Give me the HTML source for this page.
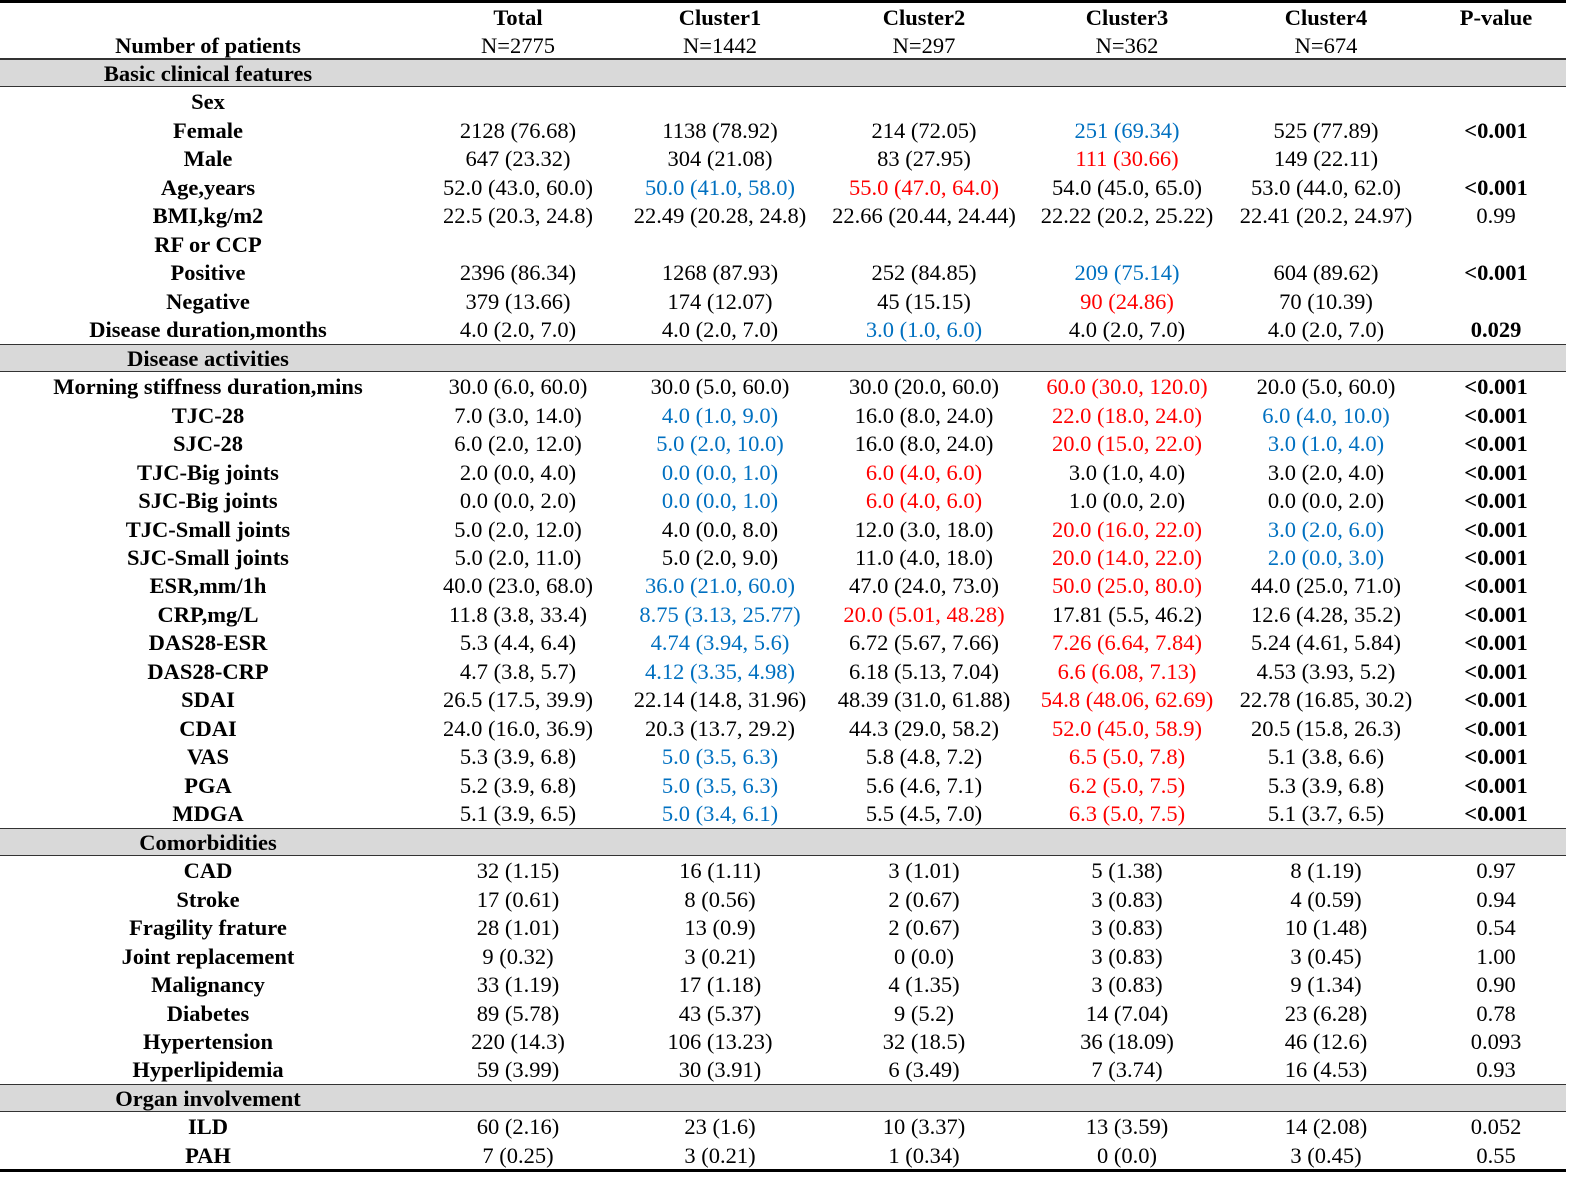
<!DOCTYPE html>
<html><head><meta charset="utf-8">
<style>
body{margin:0;width:1583px;height:1184px;background:#fff;position:relative;overflow:hidden;font-family:"Liberation Serif",serif;font-size:22.5px;color:#000}
.c{position:absolute;transform:translate(-50%,-50%);white-space:nowrap;line-height:1}
.b{font-weight:bold}
.band{position:absolute;left:0;width:1566px;height:28px;background:#d9d9d9;border-top:1.5px solid #333;border-bottom:1.5px solid #333;box-sizing:border-box}
.line{position:absolute;left:0;width:1566px;background:#000}
</style></head><body>
<div class="line" style="top:0;height:3px"></div>
<div class="line" style="top:1169px;height:3px"></div>
<div class="line" style="top:58px;height:1.5px;background:#333"></div>
<div id="t"></div>
<script>
const cols=[208,518,720,924,1127,1326,1496];
const rows=[
["S","Basic clinical features"],
["L","Sex"],
["L","Female","2128 (76.68)","1138 (78.92)","214 (72.05)","b:251 (69.34)","525 (77.89)","B:<0.001"],
["L","Male","647 (23.32)","304 (21.08)","83 (27.95)","r:111 (30.66)","149 (22.11)",""],
["L","Age,years","52.0 (43.0, 60.0)","b:50.0 (41.0, 58.0)","r:55.0 (47.0, 64.0)","54.0 (45.0, 65.0)","53.0 (44.0, 62.0)","B:<0.001"],
["L","BMI,kg/m2","22.5 (20.3, 24.8)","22.49 (20.28, 24.8)","22.66 (20.44, 24.44)","22.22 (20.2, 25.22)","22.41 (20.2, 24.97)","0.99"],
["L","RF or CCP"],
["L","Positive","2396 (86.34)","1268 (87.93)","252 (84.85)","b:209 (75.14)","604 (89.62)","B:<0.001"],
["L","Negative","379 (13.66)","174 (12.07)","45 (15.15)","r:90 (24.86)","70 (10.39)",""],
["L","Disease duration,months","4.0 (2.0, 7.0)","4.0 (2.0, 7.0)","b:3.0 (1.0, 6.0)","4.0 (2.0, 7.0)","4.0 (2.0, 7.0)","B:0.029"],
["S","Disease activities"],
["L","Morning stiffness duration,mins","30.0 (6.0, 60.0)","30.0 (5.0, 60.0)","30.0 (20.0, 60.0)","r:60.0 (30.0, 120.0)","20.0 (5.0, 60.0)","B:<0.001"],
["L","TJC-28","7.0 (3.0, 14.0)","b:4.0 (1.0, 9.0)","16.0 (8.0, 24.0)","r:22.0 (18.0, 24.0)","b:6.0 (4.0, 10.0)","B:<0.001"],
["L","SJC-28","6.0 (2.0, 12.0)","b:5.0 (2.0, 10.0)","16.0 (8.0, 24.0)","r:20.0 (15.0, 22.0)","b:3.0 (1.0, 4.0)","B:<0.001"],
["L","TJC-Big joints","2.0 (0.0, 4.0)","b:0.0 (0.0, 1.0)","r:6.0 (4.0, 6.0)","3.0 (1.0, 4.0)","3.0 (2.0, 4.0)","B:<0.001"],
["L","SJC-Big joints","0.0 (0.0, 2.0)","b:0.0 (0.0, 1.0)","r:6.0 (4.0, 6.0)","1.0 (0.0, 2.0)","0.0 (0.0, 2.0)","B:<0.001"],
["L","TJC-Small joints","5.0 (2.0, 12.0)","4.0 (0.0, 8.0)","12.0 (3.0, 18.0)","r:20.0 (16.0, 22.0)","b:3.0 (2.0, 6.0)","B:<0.001"],
["L","SJC-Small joints","5.0 (2.0, 11.0)","5.0 (2.0, 9.0)","11.0 (4.0, 18.0)","r:20.0 (14.0, 22.0)","b:2.0 (0.0, 3.0)","B:<0.001"],
["L","ESR,mm/1h","40.0 (23.0, 68.0)","b:36.0 (21.0, 60.0)","47.0 (24.0, 73.0)","r:50.0 (25.0, 80.0)","44.0 (25.0, 71.0)","B:<0.001"],
["L","CRP,mg/L","11.8 (3.8, 33.4)","b:8.75 (3.13, 25.77)","r:20.0 (5.01, 48.28)","17.81 (5.5, 46.2)","12.6 (4.28, 35.2)","B:<0.001"],
["L","DAS28-ESR","5.3 (4.4, 6.4)","b:4.74 (3.94, 5.6)","6.72 (5.67, 7.66)","r:7.26 (6.64, 7.84)","5.24 (4.61, 5.84)","B:<0.001"],
["L","DAS28-CRP","4.7 (3.8, 5.7)","b:4.12 (3.35, 4.98)","6.18 (5.13, 7.04)","r:6.6 (6.08, 7.13)","4.53 (3.93, 5.2)","B:<0.001"],
["L","SDAI","26.5 (17.5, 39.9)","22.14 (14.8, 31.96)","48.39 (31.0, 61.88)","r:54.8 (48.06, 62.69)","22.78 (16.85, 30.2)","B:<0.001"],
["L","CDAI","24.0 (16.0, 36.9)","20.3 (13.7, 29.2)","44.3 (29.0, 58.2)","r:52.0 (45.0, 58.9)","20.5 (15.8, 26.3)","B:<0.001"],
["L","VAS","5.3 (3.9, 6.8)","b:5.0 (3.5, 6.3)","5.8 (4.8, 7.2)","r:6.5 (5.0, 7.8)","5.1 (3.8, 6.6)","B:<0.001"],
["L","PGA","5.2 (3.9, 6.8)","b:5.0 (3.5, 6.3)","5.6 (4.6, 7.1)","r:6.2 (5.0, 7.5)","5.3 (3.9, 6.8)","B:<0.001"],
["L","MDGA","5.1 (3.9, 6.5)","b:5.0 (3.4, 6.1)","5.5 (4.5, 7.0)","r:6.3 (5.0, 7.5)","5.1 (3.7, 6.5)","B:<0.001"],
["S","Comorbidities"],
["L","CAD","32 (1.15)","16 (1.11)","3 (1.01)","5 (1.38)","8 (1.19)","0.97"],
["L","Stroke","17 (0.61)","8 (0.56)","2 (0.67)","3 (0.83)","4 (0.59)","0.94"],
["L","Fragility frature","28 (1.01)","13 (0.9)","2 (0.67)","3 (0.83)","10 (1.48)","0.54"],
["L","Joint replacement","9 (0.32)","3 (0.21)","0 (0.0)","3 (0.83)","3 (0.45)","1.00"],
["L","Malignancy","33 (1.19)","17 (1.18)","4 (1.35)","3 (0.83)","9 (1.34)","0.90"],
["L","Diabetes","89 (5.78)","43 (5.37)","9 (5.2)","14 (7.04)","23 (6.28)","0.78"],
["L","Hypertension","220 (14.3)","106 (13.23)","32 (18.5)","36 (18.09)","46 (12.6)","0.093"],
["L","Hyperlipidemia","59 (3.99)","30 (3.91)","6 (3.49)","7 (3.74)","16 (4.53)","0.93"],
["S","Organ involvement"],
["L","ILD","60 (2.16)","23 (1.6)","10 (3.37)","13 (3.59)","14 (2.08)","0.052"],
["L","PAH","7 (0.25)","3 (0.21)","1 (0.34)","0 (0.0)","3 (0.45)","0.55"]
];
const hdr1=["","Total","Cluster1","Cluster2","Cluster3","Cluster4","P-value"];
const hdr2=["Number of patients","N=2775","N=1442","N=297","N=362","N=674",""];
const T=document.getElementById('t');
function put(txt,x,y,cls,color,name){
  const d=document.createElement('div');
  d.className='c '+cls;
  d.style.left=x+'px';d.style.top=y+'px';
  if(color)d.style.color=color;
  d.textContent=txt;
  
  
  T.appendChild(d);
}
hdr1.forEach((h,i)=>{if(h)put(h,cols[i],18,'b','', 'header-'+h.toLowerCase());});
hdr2.forEach((h,i)=>{if(h)put(h,cols[i],46,i==0?'b':'','', 'header-count');});
const y0=74,pitch=28.47;
rows.forEach((r,k)=>{
  const y=y0+k*pitch;
  if(r[0]=='S'){
    const b=document.createElement('div');
    b.className='band';
    b.style.top=(y-15)+'px';
    
    
    T.appendChild(b);
    put(r[1],cols[0],y,'b','', 'section-title');
    return;
  }
  put(r[1],cols[0],y,'b','', 'row-label');
  for(let i=2;i<r.length;i++){
    let s=r[i],col='',cls='';
    if(!s)continue;
    if(s.startsWith('b:')){col='#0070c0';s=s.slice(2);}
    else if(s.startsWith('r:')){col='#ff0000';s=s.slice(2);}
    else if(s.startsWith('B:')){cls='b';s=s.slice(2);}
    put(s,cols[i-1],y,cls,col, 'cell-value');
  }
});
</script>
</body></html>
